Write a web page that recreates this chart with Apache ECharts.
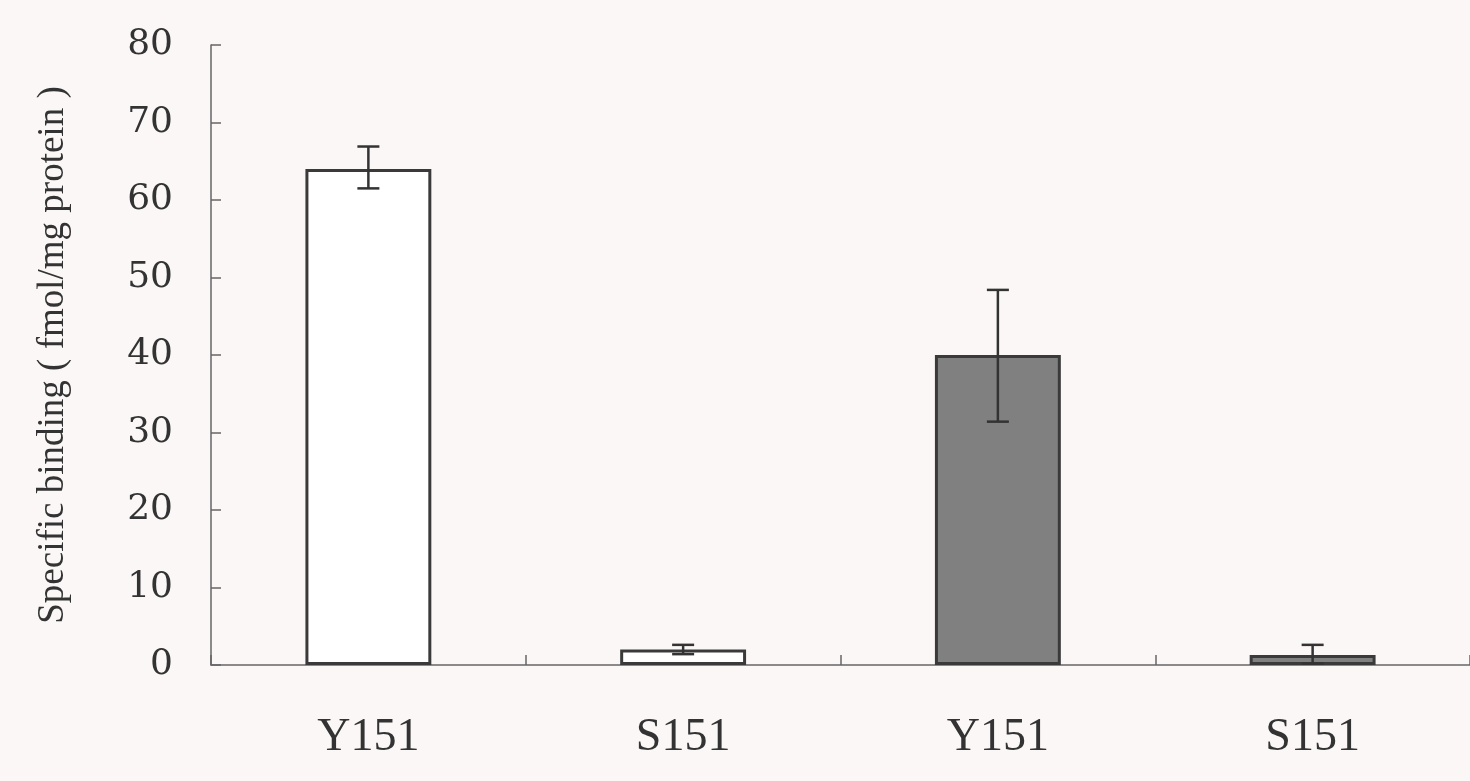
<!DOCTYPE html>
<html>
<head>
<meta charset="utf-8">
<script src="https://cdn.jsdelivr.net/npm/echarts@6/dist/echarts.min.js"></script>
<style>
html,body{margin:0;padding:0;background:#fcf7f7;}
#chart{width:1470px;height:781px;}
</style>
</head>
<body>
<div id="chart"></div>
<script>
var categories = ['Y151', 'S151', 'Y151', 'S151'];
var values = [64, 2, 40, 1.3];
var errLow = [61.5, 1.4, 31.4, 0.2];
var errHigh = [66.9, 2.6, 48.4, 2.6];
var barColors = ['#ffffff', '#ffffff', '#808080', '#808080'];
var yTicks = [0, 10, 20, 30, 40, 50, 60, 70, 80];

var chart = echarts.init(document.getElementById('chart'));
var serif = '"Liberation Serif", "DejaVu Serif", serif';

chart.setOption({
  backgroundColor: '#fcf7f7',
  animation: false,
  grid: {left: 211, right: 0, top: 45, bottom: 116, containLabel: false},
  xAxis: {
    type: 'category',
    data: categories,
    axisLine: {lineStyle: {color: '#666', width: 1.5}},
    axisTick: {show: true, inside: true, length: 10, alignWithLabel: false, lineStyle: {color: '#666', width: 1.5}},
    axisLabel: {color: '#333', fontFamily: serif, fontSize: 46, margin: 50, interval: 0}
  },
  yAxis: {
    type: 'value',
    min: yTicks[0],
    max: yTicks[yTicks.length - 1],
    interval: 10,
    name: 'Specific binding ( fmol/mg protein )',
    nameLocation: 'middle',
    nameRotate: 90,
    nameGap: 139,
    nameTextStyle: {color: '#333', fontFamily: serif, fontSize: 37},
    splitLine: {show: false},
    axisLine: {show: true, lineStyle: {color: '#666', width: 1.5}},
    axisTick: {show: true, inside: true, length: 10, lineStyle: {color: '#666', width: 1.5}},
    axisLabel: {color: '#333', fontFamily: '"DejaVu Serif", serif', fontSize: 36, margin: 38}
  },
  series: [
    {
      type: 'bar',
      barWidth: '40%',
      data: values.map(function (v, i) {
        return {value: v, itemStyle: {color: barColors[i], borderColor: '#3a3a3a', borderWidth: 3}};
      })
    },
    {
      type: 'custom',
      data: values.map(function (v, i) { return [i, errLow[i], errHigh[i]]; }),
      renderItem: function (params, api) {
        var x = api.value(0);
        var lo = api.coord([x, api.value(1)]);
        var hi = api.coord([x, api.value(2)]);
        var hw = 11;
        var st = {stroke: '#333', lineWidth: 2.5};
        return {
          type: 'group',
          children: [
            {type: 'line', shape: {x1: hi[0], y1: hi[1], x2: lo[0], y2: lo[1]}, style: st},
            {type: 'line', shape: {x1: hi[0] - hw, y1: hi[1], x2: hi[0] + hw, y2: hi[1]}, style: st},
            {type: 'line', shape: {x1: lo[0] - hw, y1: lo[1], x2: lo[0] + hw, y2: lo[1]}, style: st}
          ]
        };
      },
      z: 10
    }
  ]
});
</script>
</body>
</html>
